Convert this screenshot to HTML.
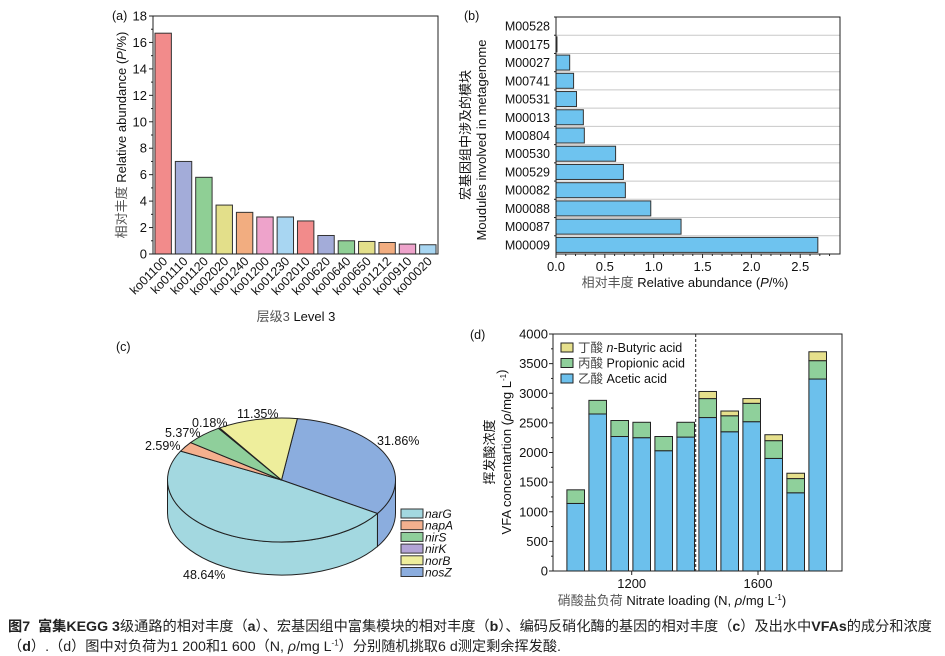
<!DOCTYPE html>
<html><head><meta charset="utf-8"><style>
body{margin:0;background:#fff;width:945px;height:656px;overflow:hidden}
svg text{font-family:"Liberation Sans","Noto Sans CJK SC",sans-serif;fill:#111}
.cap{position:absolute;left:8px;font-family:"Liberation Sans","Noto Sans CJK SC",sans-serif;font-size:14.2px;color:#222;white-space:nowrap}
</style></head><body>
<svg id="s" width="945" height="656" xmlns="http://www.w3.org/2000/svg" style="position:absolute;left:0;top:0"></svg>
<div class="cap" style="top:616px"><b>图7&nbsp; 富集KEGG 3</b>级通路的相对丰度（<b>a</b>）、宏基因组中富集模块的相对丰度（<b>b</b>）、编码反硝化酶的基因的相对丰度（<b>c</b>）及出水中<b>VFAs</b>的成分和浓度</div>
<div class="cap" style="top:636px">（<b>d</b>）.（d）图中对负荷为1 200和1 600（N, <i>ρ</i>/mg L<sup style="font-size:8px">-1</sup>）分别随机挑取6 d测定剩余挥发酸.</div>
<script>
var o='';
function T(x,y,t,a,extra){o+='<text x="'+x+'" y="'+y+'" '+(a?'text-anchor="'+a+'" ':'')+(extra||'')+'>'+t+'</text>';}
function R(x,y,w,h,f,s){o+='<rect x="'+x+'" y="'+y+'" width="'+w+'" height="'+h+'" fill="'+f+'" stroke="'+(s||'#222')+'" stroke-width="1"/>';}
function L(x1,y1,x2,y2,c,w,d){o+='<line x1="'+x1+'" y1="'+y1+'" x2="'+x2+'" y2="'+y2+'" stroke="'+(c||'#222')+'" stroke-width="'+(w||1)+'"'+(d?' stroke-dasharray="'+d+'"':'')+'/>';}
// ---- (a)
var ax0=153,ax1=438,ay0=254,ay1=16,sc=(ay0-ay1)/18;
var av=[16.7,7.0,5.8,3.7,3.15,2.8,2.8,2.5,1.4,1.0,0.95,0.87,0.75,0.7];
var an=['ko01100','ko01110','ko01120','ko02020','ko01240','ko01200','ko01230','ko02010','ko00620','ko00640','ko00650','ko01212','ko00910','ko00020'];
var ac=['#f28b8b','#a3acd9','#8fcf95','#e3df8a','#f2ad80','#eea3cb','#a8d6f2'];
var sw=(ax1-ax0)/14;
for(var i=0;i<14;i++){var cx=ax0+sw*(i+0.5);R(cx-8.2,ay0-av[i]*sc,16.4,av[i]*sc,ac[i%7],'#333');
 o+='<text transform="translate('+(cx+5)+','+(ay0+8)+') rotate(-45)" text-anchor="end" font-size="12.5">'+an[i]+'</text>';}
R(ax0,ay1,ax1-ax0,ay0-ay1,'none','#222');
for(var v=0;v<=18;v++){var y=ay0-v*sc;L(ax0-(v%2?2:4),y,ax0,y);if(v%2==0)T(ax0-6,y+4.5,v,'end','font-size="13"');}
T(112,20,'(a)','','font-size="12.5"');
o+='<text transform="translate(126,135) rotate(-90)" text-anchor="middle" font-size="13"><tspan fill="#555">相对丰度</tspan> Relative abundance (<tspan font-style="italic">P</tspan>/%)</text>';
T(296,321,'<tspan fill="#555">层级3</tspan> Level 3','middle','font-size="13"');
// ---- (b)
var bx0=556,bx1=840,by0=254,by1=17,bs=97.7;
var bn=['M00528','M00175','M00027','M00741','M00531','M00013','M00804','M00530','M00529','M00082','M00088','M00087','M00009'];
var bv=[0,0.01,0.14,0.18,0.21,0.28,0.29,0.61,0.69,0.71,0.97,1.28,2.68];
var rh=(by0-by1)/13;
for(var i=1;i<13;i++)L(bx0,by1+rh*i,bx1,by1+rh*i,'#c8c8c8',1);
for(var i=0;i<13;i++){var cy=by1+rh*(i+0.5);if(bv[i]>0)R(bx0,cy-7.5,bv[i]*bs,15,'#6ec3ef','#333');T(bx0-6,cy+4.5,bn[i],'end','font-size="12.5"');L(bx0-2,by1+rh*i,bx0,by1+rh*i);}
R(bx0,by1,bx1-bx0,by0-by1,'none','#222');
for(var k=0;k<=28;k++){var x=bx0+k*0.1*bs;L(x,by0,x,by0+(k%5?2:4));if(k%5==0)T(x,by0+17,(k/10).toFixed(1),'middle','font-size="13"');}
T(464,20,'(b)','','font-size="12.5"');
o+='<text transform="translate(470,135) rotate(-90)" text-anchor="middle" font-size="13" fill="#555">宏基因组中涉及的模块</text>';
o+='<text transform="translate(486,140) rotate(-90)" text-anchor="middle" font-size="13">Moudules involved in metagenome</text>';
T(685,287,'<tspan fill="#555">相对丰度</tspan> Relative abundance (<tspan font-style="italic">P</tspan>/%)','middle','font-size="13"');
// ---- (d)
var dx0=553,dx1=842,dy0=571,dy1=334,ds=(dy0-dy1)/4000;
var dd=[[1140,1370,0],[2650,2880,0],[2270,2540,0],[2250,2510,0],[2030,2270,0],[2260,2510,0],[2590,2910,3030],[2350,2620,2700],[2520,2830,2910],[1900,2200,2300],[1320,1560,1650],[3240,3550,3700]];
for(var i=0;i<12;i++){var cx=575.7+22*i,x=cx-8.8,w=17.6,d=dd[i];
 R(x,dy0-d[0]*ds,w,d[0]*ds,'#6cc0ec','#222');R(x,dy0-d[1]*ds,w,(d[1]-d[0])*ds,'#8fd09b','#222');
 if(d[2])R(x,dy0-d[2]*ds,w,(d[2]-d[1])*ds,'#e6e08c','#222');}
L(695.7,dy1,695.7,dy0,'#222',1,'3,2');
R(dx0,dy1,dx1-dx0,dy0-dy1,'none','#222');
for(var v=0;v<=4000;v+=250){var y=dy0-v*ds;L(dx0-(v%500?2:4),y,dx0,y);if(v%500==0)T(dx0-5,y+4.5,v,'end','font-size="13"');}
L(631.7,dy0,631.7,dy0+4);L(758,dy0,758,dy0+4);
T(631.7,588,'1200','middle','font-size="13"');T(758,588,'1600','middle','font-size="13"');
T(470,339,'(d)','','font-size="12.5"');
o+='<text transform="translate(494,452) rotate(-90)" text-anchor="middle" font-size="13" fill="#555">挥发酸浓度</text>';
o+='<text transform="translate(511,452) rotate(-90)" text-anchor="middle" font-size="13">VFA concentartion (<tspan font-style="italic">ρ</tspan>/mg L<tspan font-size="8" dy="-5">-1</tspan>)</text>';
T(672,605,'<tspan fill="#555">硝酸盐负荷</tspan> Nitrate loading (N, <tspan font-style="italic">ρ</tspan>/mg L<tspan font-size="8" dy="-5">-1</tspan><tspan dy="5">)</tspan>','middle','font-size="13"');
var lg=[['#e6e08c','<tspan fill="#444">丁酸</tspan> <tspan font-style="italic">n</tspan>-Butyric acid'],['#8fd09b','<tspan fill="#444">丙酸</tspan> Propionic acid'],['#6cc0ec','<tspan fill="#444">乙酸</tspan> Acetic acid']];
for(var i=0;i<3;i++){R(561,343+i*15.5,12,9,lg[i][0],'#222');T(578,352+i*15.5,lg[i][1],'','font-size="12.5"');}
// ---- (c) pie
T(116,351,'(c)','','font-size="12.5"');
var cx=281.5,cy=480,rx=114,ry=62,dep=33;
var pc=[['#8badde',31.86],['#a3d8e0',48.64],['#f4b08e',2.59],['#8fcf9b',5.37],['#b3a4d6',0.18],['#eeee9c',11.35]];
function P(a,dy){var r=a*Math.PI/180;return [cx+rx*Math.sin(r),cy-ry*Math.cos(r)+(dy||0)];}
function side(a1,a2,col){var p1=P(a1),p2=P(a2),q2=P(a2,dep),q1=P(a1,dep);
 o+='<path d="M'+p1+' A'+rx+','+ry+' 0 0 1 '+p2+' L'+q2+' A'+rx+','+ry+' 0 0 0 '+q1+' Z" fill="'+col+'" stroke="#222" stroke-width="1"/>';}
side(90,122.7,'#8badde');side(122.7,270,'#a3d8e0');
var a=8;
for(var i=0;i<6;i++){var b=a+pc[i][1]*3.6,p1=P(a),p2=P(b);
 o+='<path d="M'+cx+','+cy+' L'+p1+' A'+rx+','+ry+' 0 '+(b-a>180?1:0)+' 1 '+p2+' Z" fill="'+pc[i][0]+'" stroke="#222" stroke-width="1"/>';a=b;}
var pl=[['31.86%',377,445],['48.64%',183,579],['2.59%',145,450],['5.37%',165,437],['0.18%',192,427],['11.35%',237,418]];
pl.forEach(function(p){T(p[1],p[2],p[0],'','font-size="12.5"');});
var ln=['narG','napA','nirS','nirK','norB','nosZ'],lc=['#a3d8e0','#f4b08e','#8fcf9b','#b3a4d6','#eeee9c','#8badde'];
for(var i=0;i<6;i++){R(401,509+i*11.7,22,9,lc[i],'#333');T(425,518+i*11.7,ln[i],'','font-size="12" font-style="italic"');}
document.getElementById('s').innerHTML=o;
</script>
</body></html>
